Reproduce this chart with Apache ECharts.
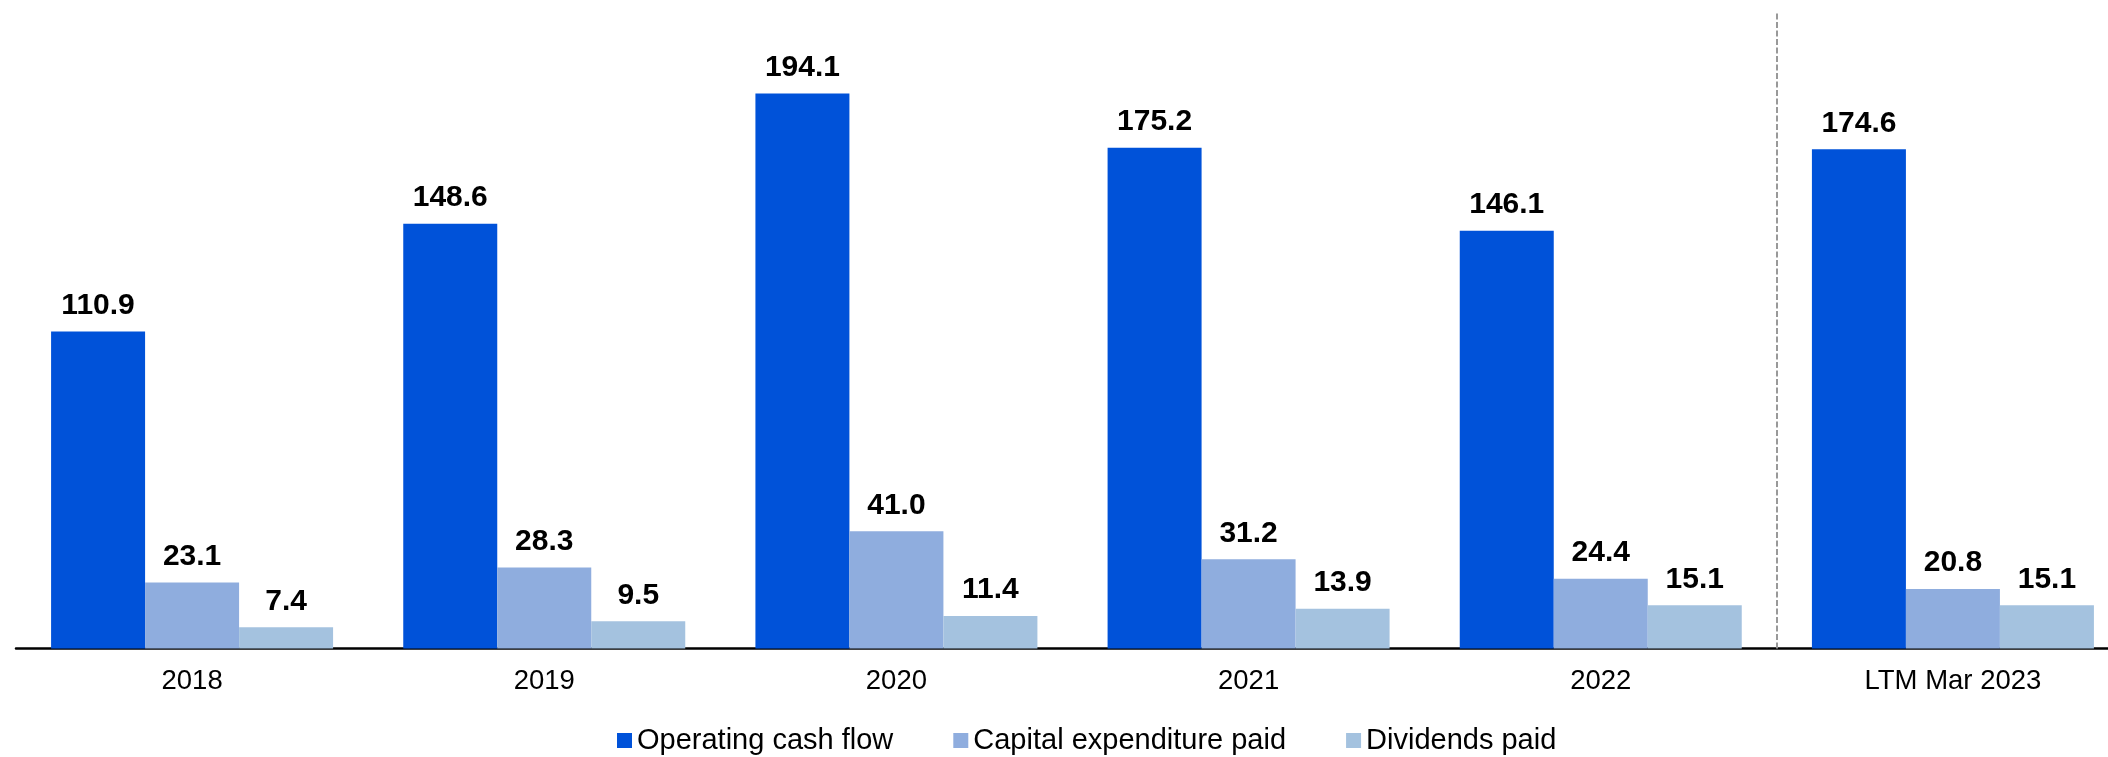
<!DOCTYPE html>
<html>
<head>
<meta charset="utf-8">
<title>Cash flow overview</title>
<script src="https://cdn.jsdelivr.net/npm/echarts@6/dist/echarts.min.js"></script>
<style>
  html, body { margin: 0; padding: 0; background: #ffffff; }
  #chart { width: 2108px; height: 757px; }
</style>
</head>
<body>
<div id="chart"></div>
<script>
// Periods shown on the category axis
const periods = ['2018', '2019', '2020', '2021', '2022', 'LTM Mar 2023'];

// Series values
const operatingCashFlow = [110.9, 148.6, 194.1, 175.2, 146.1, 174.6];
const capexPaid = [23.1, 28.3, 41.0, 31.2, 24.4, 20.8];
const dividendsPaid = [7.4, 9.5, 11.4, 13.9, 15.1, 15.1];

const seriesNames = ['Operating cash flow', 'Capital expenditure paid', 'Dividends paid'];
const seriesColors = ['#0052d9', '#8fadde', '#a4c2df'];

// Boundary between the annual periods and the trailing period (in category units)
const separatorAt = 5;

const FONT = 'Liberation Sans, Arial, sans-serif';

const chart = echarts.init(document.getElementById('chart'), null, { renderer: 'canvas' });

const valueLabel = {
  show: true,
  position: 'top',
  distance: 11,
  color: '#000000',
  fontFamily: FONT,
  fontWeight: 'bold',
  fontSize: 30,
  formatter: p => p.value.toFixed(1)
};

function barSeries(name, data, color) {
  return {
    name: name,
    type: 'bar',
    data: data,
    barWidth: 94,
    barGap: '0%',
    itemStyle: { color: color },
    label: valueLabel,
    emphasis: { disabled: true }
  };
}

chart.setOption({
  animation: false,
  grid: { left: 16, width: 2113, top: 11, bottom: 108.5, outerBoundsMode: 'none', containLabel: false },
  legend: {
    data: seriesNames,
    left: 612,
    top: 721,
    icon: 'rect',
    itemWidth: 15,
    itemHeight: 15,
    itemGap: 60,
    textStyle: { fontFamily: FONT, fontSize: 29, color: '#000000' },
    selectedMode: false
  },
  xAxis: [
    {
      type: 'category',
      data: periods,
      boundaryGap: true,
      axisLine: { show: true, lineStyle: { color: '#000000', width: 2.5 } },
      axisTick: { show: false },
      axisLabel: { margin: 19, color: '#000000', fontFamily: FONT, fontSize: 27.5 }
    },
    {
      type: 'value',
      min: 0,
      max: periods.length,
      show: false
    }
  ],
  yAxis: {
    type: 'value',
    min: 0,
    max: 223,
    show: false,
    splitLine: { show: false }
  },
  series: [
    barSeries(seriesNames[0], operatingCashFlow, seriesColors[0]),
    barSeries(seriesNames[1], capexPaid, seriesColors[1]),
    barSeries(seriesNames[2], dividendsPaid, seriesColors[2]),
    {
      name: 'separator',
      type: 'line',
      xAxisIndex: 1,
      data: [],
      silent: true,
      markLine: {
        silent: true,
        symbol: ['none', 'none'],
        label: { show: false },
        lineStyle: { color: '#999999', width: 2, type: [6, 2.5] },
        data: [{ xAxis: separatorAt }]
      }
    }
  ]
});
</script>
</body>
</html>
